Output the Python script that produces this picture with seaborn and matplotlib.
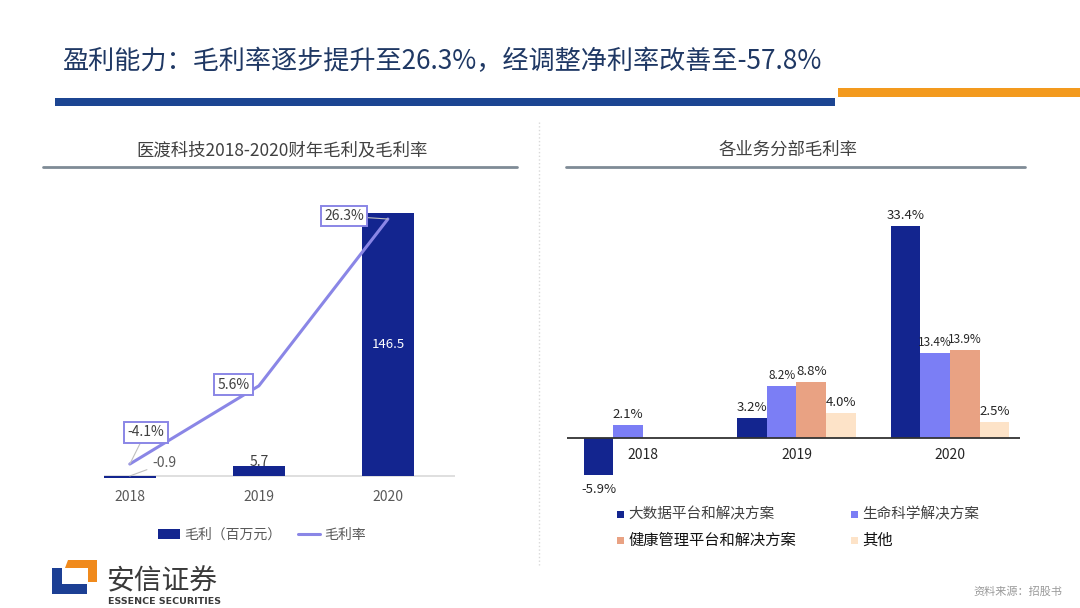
import numpy as np
import pandas as pd
import matplotlib
matplotlib.use("Agg")
import matplotlib.pyplot as plt
import seaborn as sns
from matplotlib.patches import Rectangle, Polygon, Patch
from matplotlib.lines import Line2D

sns.set_theme(style="white")
plt.rcParams["font.family"] = ["Noto Sans CJK SC", "DejaVu Sans"]

# ---- data ----
years = ["2018", "2019", "2020"]
gross_profit = [-0.9, 5.7, 146.5]          # 毛利（百万元）
gross_margin = [-4.1, 5.6, 26.3]           # 毛利率 %

segments = ["大数据平台和解决方案", "生命科学解决方案", "健康管理平台和解决方案", "其他"]
big_data = [-5.9, 3.2, 33.4]
life_sci = [2.1, 8.2, 13.4]
health_mgmt = [np.nan, 8.8, 13.9]
others = [np.nan, 4.0, 2.5]

NAVY = "#13258f"
LAV = "#8a86e6"
SEG_COLORS = [NAVY, "#7b7ef5", "#e9a283", "#fde3c8"]

W, H = 1080, 608
fig = plt.figure(figsize=(W / 100, H / 100), dpi=100)


def fx(x):
    return x / W


def fy(y):
    return 1 - y / H


# ---- header ----
fig.text(fx(62), fy(62), "盈利能力：毛利率逐步提升至26.3%，经调整净利率改善至-57.8%",
         fontsize=18.8, color="#1f3864", ha="left", va="center")
fig.patches.append(Rectangle((fx(55), fy(106)), fx(780), 8 / H, transform=fig.transFigure,
                             facecolor="#1c4592", edgecolor="none"))
fig.patches.append(Rectangle((fx(838), fy(97)), fx(242), 9 / H, transform=fig.transFigure,
                             facecolor="#f39a1e", edgecolor="none"))

# subtitles
fig.text(fx(282), fy(150), "医渡科技2018-2020财年毛利及毛利率", fontsize=12.5,
         color="#404040", ha="center", va="center")
fig.text(fx(788), fy(150), "各业务分部毛利率", fontsize=12.5,
         color="#404040", ha="center", va="center")
fig.add_artist(Line2D([fx(43), fx(517)], [fy(167), fy(167)], color="#7f8b96", lw=2))
fig.add_artist(Line2D([fx(566), fx(1025)], [fy(167), fy(167)], color="#7f8b96", lw=2))
fig.add_artist(Line2D([fx(539), fx(539)], [fy(122), fy(565)], color="#d9d9d9", lw=1, ls=":"))

# ---- left chart: gross profit & margin ----
ax = fig.add_axes([fx(104), fy(480), fx(351), 280 / H])
sns.barplot(x=years, y=gross_profit, ax=ax, color=NAVY, width=0.4, saturation=1, linewidth=0)
ax.set_ylim(-2.23, 153.8)
ax.axhline(0, color="#d9d9d9", lw=1.2, zorder=0)

ax2 = ax.twinx()
sns.lineplot(x=years, y=gross_margin, ax=ax2, color=LAV, lw=2.2, sort=False)
ax2.set_ylim(-6.08, 28.66)
ax.set_xlim(-0.2, 2.52)

for a in (ax, ax2):
    for s in a.spines.values():
        s.set_visible(False)
    a.set_yticks([])
    a.set_ylabel("")
ax.tick_params(axis="x", length=0, pad=7, labelsize=10, labelcolor="#595959")
ax.set_xlabel("")

# bar labels
ax.text(2, gross_profit[2] / 2, f"{gross_profit[2]:.1f}", color="white", fontsize=9.5,
        ha="center", va="center")
ax.annotate(f"{gross_profit[1]:.1f}", xy=(1, gross_profit[1]), xytext=(0, 4),
            textcoords="offset pixels", ha="center", va="center", fontsize=10, color="#404040")
ax.annotate(f"{gross_profit[0]:.1f}", xy=(0, 0), xytext=(23, 13),
            textcoords="offset pixels", ha="left", va="center", fontsize=10, color="#595959",
            arrowprops=dict(arrowstyle="-", color="#bfbfbf", lw=0.8, shrinkA=2, shrinkB=0))

box = dict(boxstyle="square,pad=0.25", fc="white", ec=LAV, lw=1.4)
margin_offsets = [(16, 32), (-25, 1), (-44, 3)]
for i, (val, off) in enumerate(zip(gross_margin, margin_offsets)):
    arrow = None if i == 1 else dict(arrowstyle="-", color="#bfbfbf", lw=0.8, shrinkA=0, shrinkB=0)
    ax2.annotate(f"{val:.1f}%", xy=(i, val), xytext=off, textcoords="offset pixels",
                 ha="center", va="center", fontsize=10, color="#404040", bbox=box,
                 arrowprops=arrow, zorder=5)

handles = [Patch(facecolor=NAVY, edgecolor="none"), Line2D([], [], color=LAV, lw=2.2)]
fig.legend(handles, ["毛利（百万元）", "毛利率"], loc="center",
           bbox_to_anchor=(fx(262), fy(535)), ncol=2, frameon=False, fontsize=10,
           labelcolor="#595959", columnspacing=1.2, handlelength=1.6, handletextpad=0.3)

# ---- right chart: segment margins ----
seg_df = pd.DataFrame({
    "year": years * 4,
    "segment": np.repeat(segments, 3),
    "margin": big_data + life_sci + health_mgmt + others,
})

axr = fig.add_axes([fx(567), fy(500), fx(453), 300 / H])
sns.barplot(data=seg_df, x="year", y="margin", hue="segment", order=years,
            hue_order=segments, palette=SEG_COLORS, width=0.77, saturation=1,
            errorbar=None, legend=False, linewidth=0, ax=axr)
axr.set_ylim(-9.76, 37.48)
axr.set_xlim(-0.495, 2.456)
axr.axhline(0, color="#333333", lw=1.3, zorder=3)
for s in axr.spines.values():
    s.set_visible(False)
axr.set_xticks([])
axr.set_yticks([])
axr.set_xlabel("")
axr.set_ylabel("")

for i, yr in enumerate(years):
    axr.annotate(yr, xy=(i, 0), xytext=(0, -17), textcoords="offset pixels",
                 ha="center", va="center", fontsize=10, color="#262626")

small = {8.2, 13.4, 13.9}
for bar in axr.patches:
    h = bar.get_height()
    if np.isnan(h) or bar.get_width() == 0:
        continue
    xc = bar.get_x() + bar.get_width() / 2
    fs = 8.5 if round(h, 1) in small else 9.5
    if h >= 0:
        axr.annotate(f"{h:.1f}%", xy=(xc, h), xytext=(0, 4), textcoords="offset pixels",
                     ha="center", va="bottom", fontsize=fs, color="#262626")
    else:
        axr.annotate(f"{h:.1f}%", xy=(xc, h), xytext=(0, -8), textcoords="offset pixels",
                     ha="center", va="top", fontsize=fs, color="#262626")

# manual legend (2 x 2)
leg_pos = [(617, 514), (851, 514), (617, 540), (851, 540)]
leg_fs = [10.5, 10.5, 11, 11]
leg_col = ["#404040", "#404040", "#111111", "#111111"]
for name, col, (px, py), fs, tc in zip(segments, SEG_COLORS, leg_pos, leg_fs, leg_col):
    fig.patches.append(Rectangle((fx(px), fy(py + 3.5)), 7 / W, 7 / H,
                                 transform=fig.transFigure, facecolor=col, edgecolor="none"))
    fig.text(fx(px + 11), fy(py), name, fontsize=fs, color=tc, ha="left", va="center")

# ---- footer: logo + source ----
fig.patches.append(Polygon([(fx(52), fy(568)), (fx(62), fy(568)), (fx(62), fy(584)),
                            (fx(87), fy(584)), (fx(87), fy(594)), (fx(52), fy(594))],
                           closed=True, transform=fig.transFigure, facecolor="#1c3f94",
                           edgecolor="none"))
fig.patches.append(Polygon([(fx(68), fy(560)), (fx(97), fy(560)), (fx(97), fy(582)),
                            (fx(88), fy(582)), (fx(88), fy(568)), (fx(65), fy(568))],
                           closed=True, transform=fig.transFigure, facecolor="#f08a1c",
                           edgecolor="none"))
fig.text(fx(106), fy(581), "安信证券", fontsize=20, color="#3a3a3a", ha="left", va="center")
fig.text(fx(108), fy(602), "ESSENCE SECURITIES", fontsize=6.8, color="#3a3a3a",
         ha="left", va="center", fontweight="bold", family="DejaVu Sans")
fig.text(fx(1062), fy(592), "资料来源：招股书", fontsize=8, color="#9a9a9a",
         ha="right", va="center", style="italic")

fig.savefig("out.png", dpi=100)
